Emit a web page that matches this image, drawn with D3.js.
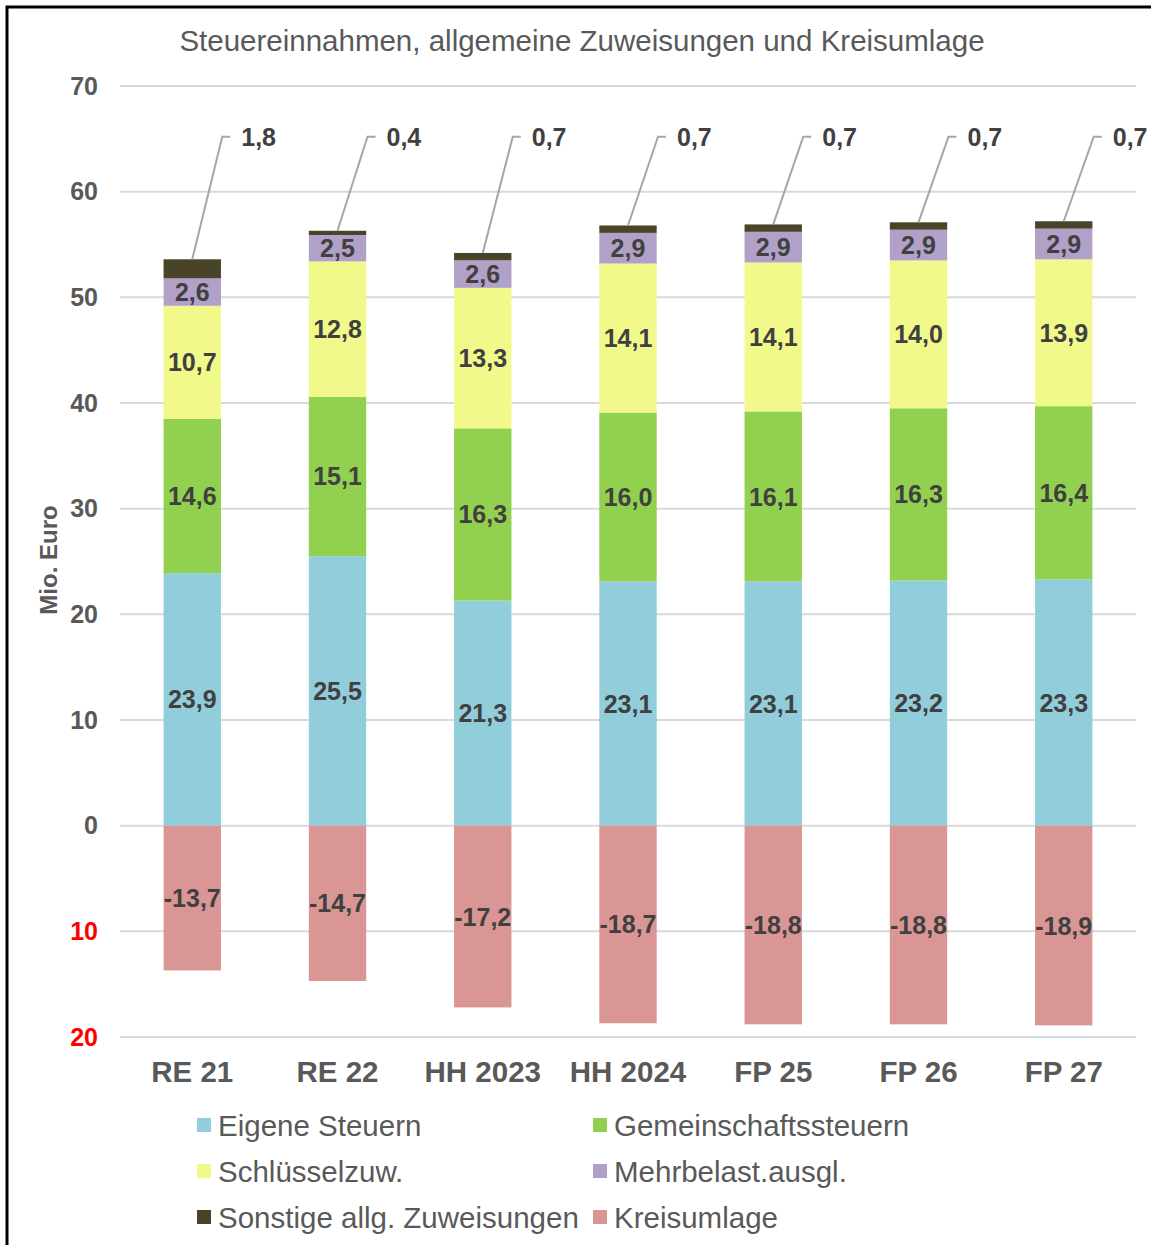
<!DOCTYPE html>
<html>
<head>
<meta charset="utf-8">
<script src="https://cdn.jsdelivr.net/npm/d3@7"></script>
<style>
  body { margin: 0; background: #fff; }
  text { font-family: "Liberation Sans", Arial, sans-serif; }
</style>
</head>
<body>
<div id="chart"></div>
<script>
// data
const categories = ["RE 21", "RE 22", "HH 2023", "HH 2024", "FP 25", "FP 26", "FP 27"];
const eigeneSteuern = [23.9, 25.5, 21.3, 23.1, 23.1, 23.2, 23.3];
const gemeinschaftssteuern = [14.6, 15.1, 16.3, 16.0, 16.1, 16.3, 16.4];
const schluesselzuw = [10.7, 12.8, 13.3, 14.1, 14.1, 14.0, 13.9];
const mehrbelastausgl = [2.6, 2.5, 2.6, 2.9, 2.9, 2.9, 2.9];
const sonstige = [1.8, 0.4, 0.7, 0.7, 0.7, 0.7, 0.7];
const kreisumlage = [-13.7, -14.7, -17.2, -18.7, -18.8, -18.8, -18.9];
const yTicks = [-20, -10, 0, 10, 20, 30, 40, 50, 60, 70];

const series = [
  { name: "Eigene Steuern", values: eigeneSteuern, color: "#92cddc" },
  { name: "Gemeinschaftssteuern", values: gemeinschaftssteuern, color: "#92d050" },
  { name: "Schlüsselzuw.", values: schluesselzuw, color: "#f2f98b" },
  { name: "Mehrbelast.ausgl.", values: mehrbelastausgl, color: "#b1a0c7" },
  { name: "Sonstige allg. Zuweisungen", values: sonstige, color: "#494429" },
  { name: "Kreisumlage", values: kreisumlage, color: "#da9694" }
];

const width = 1151, height = 1245;
const svg = d3.select("#chart").append("svg")
  .attr("width", width)
  .attr("height", height);

// outer frame (runs off right and bottom edge)
svg.append("rect")
  .attr("x", 7).attr("y", 7)
  .attr("width", 1200).attr("height", 1300)
  .attr("fill", "none")
  .attr("stroke", "#000")
  .attr("stroke-width", 3);

svg.append("text")
  .attr("x", 582).attr("y", 51)
  .attr("text-anchor", "middle")
  .attr("font-size", 29.5)
  .attr("fill", "#595959")
  .text("Steuereinnahmen, allgemeine Zuweisungen und Kreisumlage");

let x = d3.scaleBand()
  .domain(categories)
  .range([120, 1136])
  .paddingInner(0.605)
  .paddingOuter(0.3);

let y = d3.scaleLinear()
  .domain([-20, 70])
  .range([1037, 86]);

// gridlines
svg.append("g")
  .selectAll("line")
  .data(yTicks)
  .join("line")
  .attr("x1", 120).attr("x2", 1136)
  .attr("y1", d => y(d)).attr("y2", d => y(d))
  .attr("stroke", "#d9d9d9")
  .attr("stroke-width", 2);

// y tick labels
let yAxis = svg.append("g")
  .attr("transform", "translate(120,0)")
  .call(d3.axisLeft(y).tickValues(yTicks).tickSize(0).tickPadding(22)
    .tickFormat(d => Math.abs(d)));
yAxis.select(".domain").remove();
yAxis.selectAll("text")
  .attr("font-family", "'Liberation Sans', Arial, sans-serif")
  .attr("font-size", 25)
  .attr("font-weight", "bold")
  .attr("fill", d => d < 0 ? "#ff0000" : "#595959");

svg.append("text")
  .attr("transform", "translate(57,560) rotate(-90)")
  .attr("text-anchor", "middle")
  .attr("font-size", 24)
  .attr("font-weight", "bold")
  .attr("fill", "#595959")
  .text("Mio. Euro");

// category labels
let xAxis = svg.append("g")
  .attr("transform", `translate(0,${y(-20)})`)
  .call(d3.axisBottom(x).tickSize(0).tickPadding(24));
xAxis.select(".domain").remove();
xAxis.selectAll("text")
  .attr("font-family", "'Liberation Sans', Arial, sans-serif")
  .attr("font-size", 29.5)
  .attr("font-weight", "bold")
  .attr("fill", "#595959");

// stacked positive segments
const posSeries = series.slice(0, 5);
const stackData = categories.map((c, i) => {
  let row = { cat: c };
  posSeries.forEach(s => row[s.name] = s.values[i]);
  return row;
});
const stacked = d3.stack().keys(posSeries.map(s => s.name))(stackData);

stacked.forEach((layer, li) => {
  let g = svg.append("g");
  g.selectAll("rect")
    .data(layer)
    .join("rect")
    .attr("x", d => x(d.data.cat))
    .attr("width", x.bandwidth())
    .attr("y", d => y(d[1]))
    .attr("height", d => y(d[0]) - y(d[1]))
    .attr("fill", posSeries[li].color);
});

// negative segment
svg.append("g")
  .selectAll("rect")
  .data(kreisumlage)
  .join("rect")
  .attr("x", (d, i) => x(categories[i]))
  .attr("width", x.bandwidth())
  .attr("y", y(0))
  .attr("height", d => y(d) - y(0))
  .attr("fill", series[5].color);

const fmt = v => d3.format(".1f")(v).replace(".", ",").replace("−", "-");

// labels inside segments (first four layers)
stacked.slice(0, 4).forEach(layer => {
  svg.append("g")
    .selectAll("text")
    .data(layer)
    .join("text")
    .attr("x", d => x(d.data.cat) + x.bandwidth() / 2)
    .attr("y", d => y((d[0] + d[1]) / 2) + 9)
    .attr("text-anchor", "middle")
    .attr("font-size", 25)
    .attr("font-weight", "bold")
    .attr("fill", "#404040")
    .text(d => fmt(d[1] - d[0]));
});

svg.append("g")
  .selectAll("text")
  .data(kreisumlage)
  .join("text")
  .attr("x", (d, i) => x(categories[i]) + x.bandwidth() / 2)
  .attr("y", d => y(d / 2) + 9)
  .attr("text-anchor", "middle")
  .attr("font-size", 25)
  .attr("font-weight", "bold")
  .attr("fill", "#404040")
  .text(d => fmt(d));

// callouts for Sonstige
const topLayer = stacked[4];
const labelLevel = 65.2;
let callout = svg.append("g");
topLayer.forEach(d => {
  let cx = x(d.data.cat) + x.bandwidth() / 2;
  let ly = y(labelLevel);
  callout.append("polyline")
    .attr("points", `${cx},${y(d[1])} ${cx + 30},${ly} ${cx + 38},${ly}`)
    .attr("fill", "none")
    .attr("stroke", "#a6a6a6")
    .attr("stroke-width", 2);
  callout.append("text")
    .attr("x", cx + 49)
    .attr("y", ly + 9)
    .attr("font-size", 25)
    .attr("font-weight", "bold")
    .attr("fill", "#404040")
    .text(fmt(d[1] - d[0]));
});

// legend
const legendPos = [[197, 1125], [593, 1125], [197, 1171], [593, 1171], [197, 1217], [593, 1217]];
let legend = svg.append("g");
series.forEach((s, i) => {
  let [lx, ly] = legendPos[i];
  legend.append("rect")
    .attr("x", lx).attr("y", ly - 7)
    .attr("width", 14).attr("height", 14)
    .attr("fill", s.color);
  legend.append("text")
    .attr("x", lx + 21).attr("y", ly + 11)
    .attr("font-size", 29.5)
    .attr("fill", "#595959")
    .text(s.name);
});
</script>
</body>
</html>
